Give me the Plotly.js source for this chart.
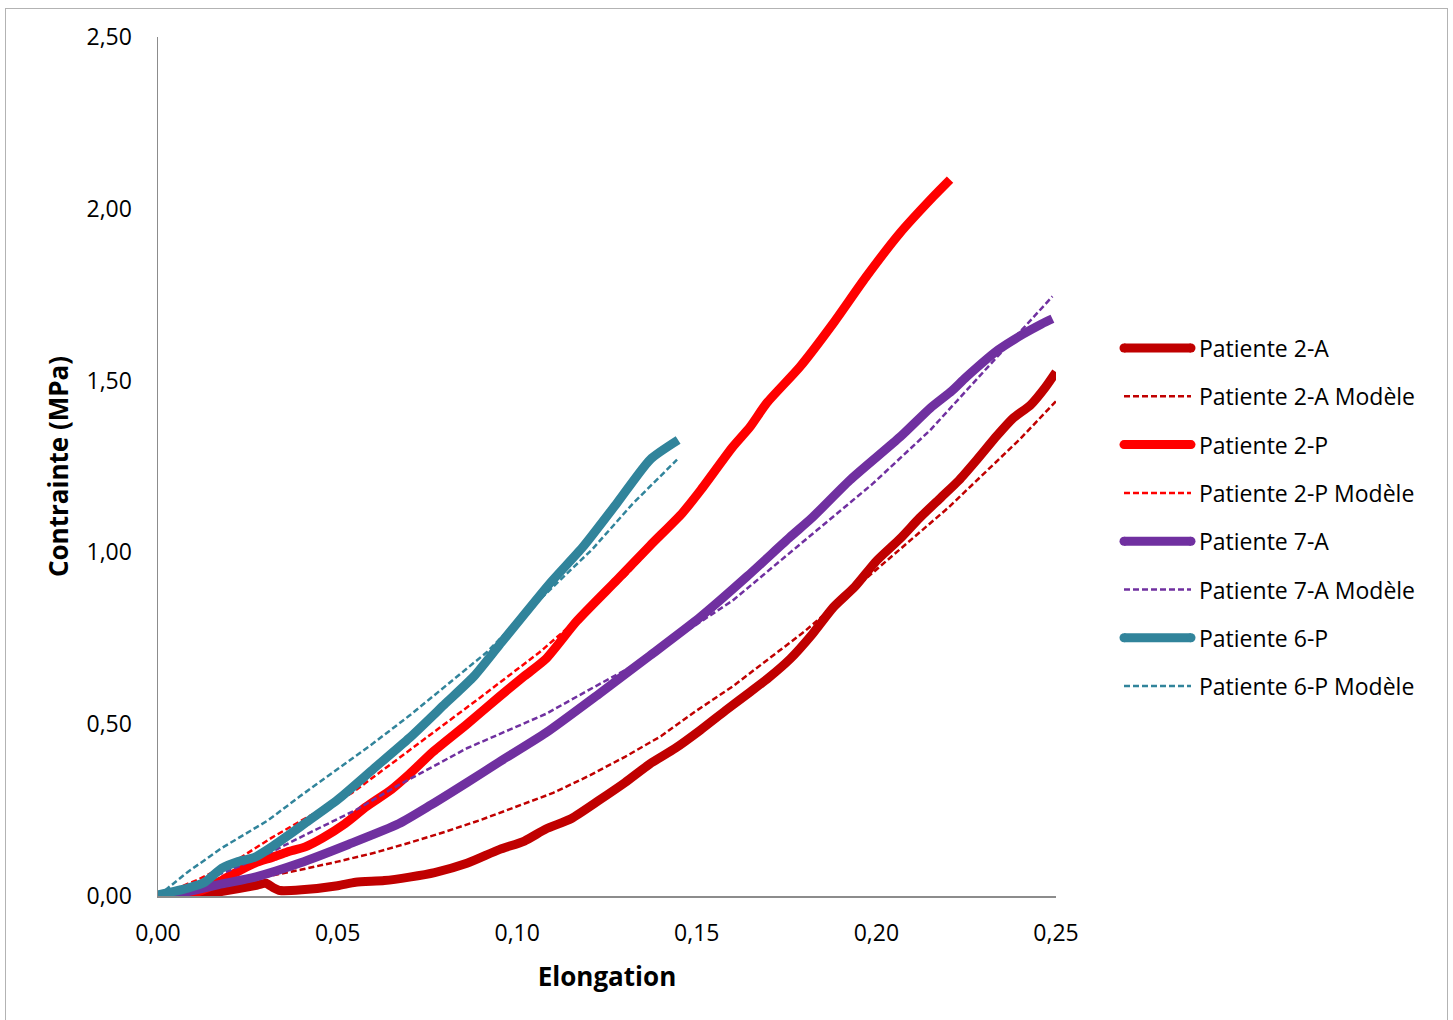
<!DOCTYPE html>
<html>
<head>
<meta charset="utf-8">
<script src="https://cdn.plot.ly/plotly-3.0.1.min.js"></script>
<style>
  html, body { margin: 0; padding: 0; background: #ffffff; }
  #chart { width: 1453px; height: 1020px; }
  #frame { position: absolute; left: 5px; top: 8px; width: 1441px; height: 1030px;
           border: 1.5px solid #b3b3b3; pointer-events: none; }
</style>
</head>
<body>
<div id="chart"></div>
<div id="frame"></div>
<script>
// ---- Data ----
const p2A_x = [0, 0.008, 0.018, 0.027, 0.030, 0.032, 0.034, 0.040, 0.050, 0.055, 0.063, 0.070, 0.077, 0.086, 0.095, 0.102, 0.108, 0.115, 0.123, 0.130, 0.137, 0.144, 0.151, 0.158, 0.165, 0.170, 0.176, 0.182, 0.188, 0.194, 0.200, 0.2066, 0.212, 0.218, 0.223, 0.228, 0.2336, 0.238, 0.243, 0.247, 0.250];
const p2A_y = [0, 0.002, 0.014, 0.030, 0.037, 0.025, 0.016, 0.018, 0.030, 0.040, 0.045, 0.055, 0.068, 0.095, 0.135, 0.160, 0.195, 0.225, 0.280, 0.330, 0.385, 0.430, 0.483, 0.540, 0.595, 0.635, 0.690, 0.760, 0.840, 0.900, 0.975, 1.040, 1.100, 1.160, 1.210, 1.270, 1.340, 1.390, 1.430, 1.480, 1.525];

const p2AM_x = [0, 0.01, 0.02, 0.03, 0.04, 0.05, 0.06, 0.07, 0.08, 0.09, 0.10, 0.11, 0.12, 0.13, 0.14, 0.15, 0.16, 0.17, 0.18, 0.19, 0.20, 0.21, 0.22, 0.23, 0.24, 0.25];
const p2AM_y = [0, 0.016, 0.035, 0.055, 0.077, 0.100, 0.125, 0.155, 0.187, 0.222, 0.260, 0.300, 0.350, 0.405, 0.465, 0.540, 0.610, 0.690, 0.770, 0.860, 0.950, 1.040, 1.130, 1.230, 1.330, 1.440];

const p2P_x = [0, 0.008, 0.013, 0.018, 0.022, 0.027, 0.032, 0.036, 0.041, 0.046, 0.052, 0.058, 0.065, 0.070, 0.0766, 0.086, 0.095, 0.102, 0.108, 0.1166, 0.1278, 0.137, 0.146, 0.151, 0.160, 0.1648, 0.1695, 0.1787, 0.188, 0.197, 0.2066, 0.2158, 0.2205];
const p2P_y = [0, 0.003, 0.020, 0.047, 0.070, 0.096, 0.113, 0.128, 0.143, 0.170, 0.210, 0.260, 0.310, 0.355, 0.420, 0.500, 0.580, 0.640, 0.690, 0.800, 0.920, 1.020, 1.115, 1.180, 1.307, 1.365, 1.435, 1.540, 1.667, 1.800, 1.930, 2.035, 2.085];

const p2PM_x = [0, 0.011, 0.022, 0.0317, 0.040, 0.054, 0.065, 0.0766, 0.090, 0.1063, 0.1184, 0.130, 0.145];
const p2PM_y = [0, 0.047, 0.105, 0.170, 0.220, 0.300, 0.385, 0.475, 0.580, 0.710, 0.820, 0.930, 1.100];

const p7A_x = [0, 0.008, 0.0178, 0.027, 0.0395, 0.053, 0.067, 0.076, 0.086, 0.095, 0.108, 0.123, 0.137, 0.151, 0.164, 0.176, 0.182, 0.1926, 0.2066, 0.215, 0.221, 0.225, 0.234, 0.2408, 0.246, 0.249];
const p7A_y = [0, 0.012, 0.035, 0.055, 0.096, 0.150, 0.210, 0.265, 0.330, 0.390, 0.475, 0.590, 0.700, 0.812, 0.930, 1.045, 1.100, 1.210, 1.336, 1.420, 1.470, 1.510, 1.590, 1.635, 1.665, 1.680];

const p7AM_x = [0, 0.01, 0.02, 0.03, 0.0395, 0.055, 0.0674, 0.086, 0.097, 0.108, 0.120, 0.134, 0.147, 0.160, 0.1835, 0.199, 0.215, 0.225, 0.242, 0.249];
const p7AM_y = [0, 0.035, 0.075, 0.120, 0.170, 0.250, 0.325, 0.430, 0.480, 0.530, 0.600, 0.680, 0.770, 0.860, 1.065, 1.200, 1.356, 1.470, 1.667, 1.745];

const p6P_x = [0, 0.0083, 0.013, 0.0178, 0.0223, 0.027, 0.0317, 0.041, 0.050, 0.060, 0.070, 0.080, 0.088, 0.095, 0.1091, 0.1183, 0.1278, 0.137, 0.1448];
const p6P_y = [0.003, 0.023, 0.040, 0.081, 0.100, 0.113, 0.143, 0.212, 0.280, 0.370, 0.460, 0.560, 0.640, 0.730, 0.910, 1.016, 1.144, 1.270, 1.327];

const p6PM_x = [0, 0.0083, 0.0178, 0.0306, 0.0395, 0.050, 0.060, 0.070, 0.080, 0.0916, 0.100, 0.110, 0.121, 0.132, 0.1445];
const p6PM_y = [0, 0.070, 0.140, 0.220, 0.290, 0.370, 0.445, 0.525, 0.610, 0.710, 0.800, 0.900, 1.010, 1.140, 1.270];

const seriesNames = ["Patiente 2-A", "Patiente 2-A Modèle", "Patiente 2-P", "Patiente 2-P Modèle",
                     "Patiente 7-A", "Patiente 7-A Modèle", "Patiente 6-P", "Patiente 6-P Modèle"];
const xTickVals = [0, 0.05, 0.10, 0.15, 0.20, 0.25];
const xTickText = ["0,00", "0,05", "0,10", "0,15", "0,20", "0,25"];
const yTickVals = [0, 0.5, 1.0, 1.5, 2.0, 2.5];
const yTickText = ["0,00", "0,50", "1,00", "1,50", "2,00", "2,50"];

// ---- Styles ----
const colors = ["#C00000", "#C00000", "#FF0000", "#FF0000", "#7030A0", "#7030A0", "#31849B", "#31849B"];
const xs = [p2A_x, p2AM_x, p2P_x, p2PM_x, p7A_x, p7AM_x, p6P_x, p6PM_x];
const ys = [p2A_y, p2AM_y, p2P_y, p2PM_y, p7A_y, p7AM_y, p6P_y, p6PM_y];
const dashed = [false, true, false, true, false, true, false, true];

const traces = seriesNames.map((name, i) => ({
  type: "scatter", mode: "lines", name: name,
  x: xs[i], y: ys[i],
  line: dashed[i]
    ? { color: colors[i], width: 2.5, dash: "6px,3px" }
    : { color: colors[i], width: 9, shape: "spline", smoothing: 0.6 },
  showlegend: false, hoverinfo: "skip"
}));

// plot area in pixels
const L = 158, R = 1056, T = 37, B = 896;
const W = 1453, H = 1020;
const px2paperX = p => (p - L) / (R - L);
const px2paperY = p => (B - p) / (B - T);

const shapes = [];
const annotations = [];
const legendTop = 348, legendStep = 48.3;
seriesNames.forEach((name, i) => {
  const cy = legendTop + i * legendStep;
  const yy = px2paperY(cy);
  shapes.push({
    type: "line", xref: "paper", yref: "paper",
    x0: px2paperX(1124), x1: px2paperX(1191), y0: yy, y1: yy,
    line: dashed[i] ? { color: colors[i], width: 2.5, dash: "6px,3px" }
                    : { color: colors[i], width: 9 },
    layer: "above"
  });
  if (!dashed[i]) {
    shapes.push({ type: "circle", xref: "paper", yref: "paper",
      x0: px2paperX(1119.5), x1: px2paperX(1128.5), y0: px2paperY(cy + 4.5), y1: px2paperY(cy - 4.5),
      fillcolor: colors[i], line: { width: 0 } });
    shapes.push({ type: "circle", xref: "paper", yref: "paper",
      x0: px2paperX(1186.5), x1: px2paperX(1195.5), y0: px2paperY(cy + 4.5), y1: px2paperY(cy - 4.5),
      fillcolor: colors[i], line: { width: 0 } });
  }
  annotations.push({
    xref: "paper", yref: "paper", x: px2paperX(1197), y: yy,
    xanchor: "left", yanchor: "middle", showarrow: false,
    text: name, font: { family: "Open Sans, sans-serif", size: 23, color: "#000000" }
  });
});

const layout = {
  width: W, height: H,
  margin: { l: L, r: W - R, t: T, b: H - B, pad: 0 },
  paper_bgcolor: "#ffffff", plot_bgcolor: "#ffffff",
  showlegend: false,
  font: { family: "Open Sans, sans-serif", color: "#000000" },
  xaxis: {
    range: [0, 0.25], tickvals: xTickVals, ticktext: xTickText,
    showgrid: false, zeroline: false,
    showline: true, linecolor: "#8c8c8c", linewidth: 1.5,
    ticks: "", ticklabelstandoff: 16,
    tickfont: { family: "Open Sans, sans-serif", size: 23, color: "#000000" },
    title: { text: "Elongation", font: { family: "Open Sans, sans-serif", size: 26, color: "#000000", weight: "bold" }, standoff: 20 },
    fixedrange: true
  },
  yaxis: {
    range: [0, 2.5], tickvals: yTickVals, ticktext: yTickText,
    showgrid: false, zeroline: false,
    showline: true, linecolor: "#8c8c8c", linewidth: 1.5,
    ticks: "", ticklabelstandoff: 20,
    tickfont: { family: "Open Sans, sans-serif", size: 23, color: "#000000" },
    title: { text: "Contrainte (MPa)", font: { family: "Open Sans, sans-serif", size: 26, color: "#000000", weight: "bold" }, standoff: 10 },
    fixedrange: true
  },
  shapes: shapes,
  annotations: annotations
};

Plotly.newPlot("chart", traces, layout, { displayModeBar: false, staticPlot: true });
</script>
</body>
</html>
